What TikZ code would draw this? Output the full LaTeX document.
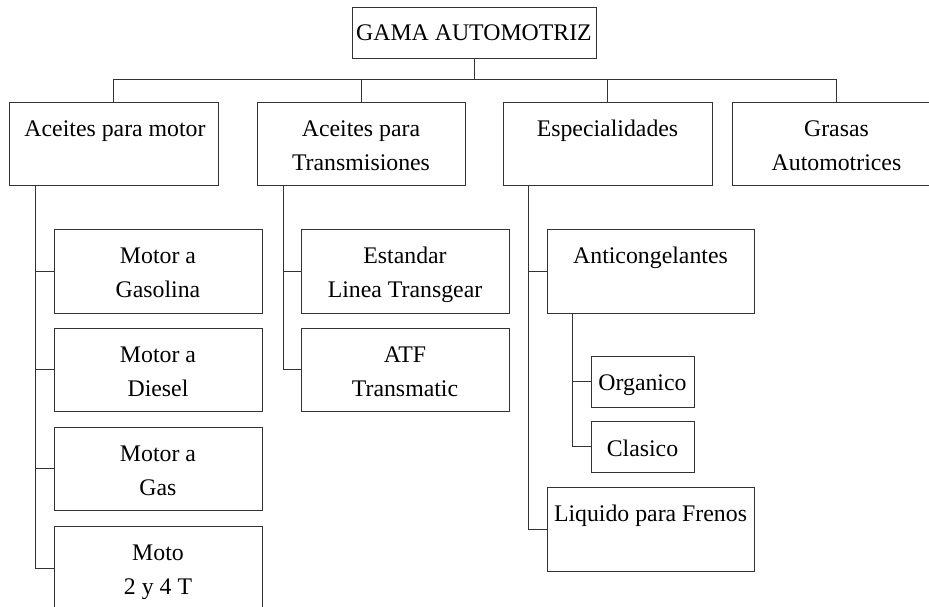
\documentclass[tikz,border=0pt]{standalone}
\usepackage{fontspec}
\setmainfont{Liberation Serif}
\begin{document}
\begin{tikzpicture}[x=1pt,y=-1pt,
  box/.style={draw=black!80,line width=0.9pt,inner sep=0pt,outer sep=0pt,rectangle},
  txt/.style={anchor=base,align=center,inner sep=0pt,font=\fontsize{23.8}{34}\selectfont},
  conn/.style={draw=black!80,line width=0.9pt}]
\useasboundingbox (0,0) rectangle (929,606);
\clip (0,0) rectangle (929,606);
% boxes
\node[box,minimum width=244pt,minimum height=51pt] (top) at (474,32.5) {};
\node[box,minimum width=209pt,minimum height=83pt] (a1) at (113.5,143.5) {};
\node[box,minimum width=208pt,minimum height=83pt] (a2) at (361,143.5) {};
\node[box,minimum width=209pt,minimum height=83pt] (a3) at (607.5,143.5) {};
\node[box,minimum width=209pt,minimum height=83pt] (a4) at (836.5,143.5) {};
\node[box,minimum width=208pt,minimum height=84pt] (b1) at (158,271) {};
\node[box,minimum width=208pt,minimum height=83pt] (b2) at (158,369.5) {};
\node[box,minimum width=208pt,minimum height=83pt] (b3) at (158,468.5) {};
\node[box,minimum width=208pt,minimum height=84pt] (b4) at (158,568) {};
\node[box,minimum width=208pt,minimum height=84pt] (c1) at (405,271) {};
\node[box,minimum width=208pt,minimum height=83pt] (c2) at (405,369.5) {};
\node[box,minimum width=207pt,minimum height=84pt] (d1) at (650.5,271) {};
\node[box,minimum width=207pt,minimum height=84pt] (d2) at (650.5,529) {};
\node[box,minimum width=103pt,minimum height=51pt] (e1) at (642.5,381.5) {};
\node[box,minimum width=103pt,minimum height=51pt] (e2) at (642.5,446.5) {};
% texts (base anchor = last line's baseline)
\node[txt] (ttop) at (474,40.5) {GAMA AUTOMOTRIZ};
\node[txt] (ta1) at (115,136.5) {Aceites para motor};
\node[txt] (ta2) at (361,170) {Aceites para\\Transmisiones};
\node[txt] (ta3) at (607.5,136.5) {Especialidades};
\node[txt] (ta4) at (836.5,170) {Grasas\\Automotrices};
\node[txt] (tb1) at (158,297) {Motor a\\Gasolina};
\node[txt] (tb2) at (158,396) {Motor a\\Diesel};
\node[txt] (tb3) at (158,495) {Motor a\\Gas};
\node[txt] (tb4) at (158,594) {Moto\\2 y 4 T};
\node[txt] (tc1) at (405,297) {Estandar\\Linea Transgear};
\node[txt] (tc2) at (405,396) {ATF\\Transmatic};
\node[txt] (td1) at (650.5,263) {Anticongelantes};
\node[txt] (td2) at (650.5,521) {Liquido para Frenos};
\node[txt] (te1) at (642.5,390) {Organico};
\node[txt] (te2) at (642.5,456) {Clasico};
% connector helpers
\coordinate (bus) at (0,79);
\coordinate (sp1) at (35,0);
\coordinate (sp2) at (283,0);
\coordinate (sp3) at (528,0);
\coordinate (sp4) at (572,0);
% connectors
\draw[conn] (top.south) -- (top.south |- bus);
\draw[conn] (a1.north) -- (a1.north |- bus) -- (a4.north |- bus) -- (a4.north);
\draw[conn] (a2.north) -- (a2.north |- bus);
\draw[conn] (a3.north) -- (a3.north |- bus);
\draw[conn] (a1.south -| sp1) |- (b4.west);
\draw[conn] (sp1 |- b1.west) -- (b1.west);
\draw[conn] (sp1 |- b2.west) -- (b2.west);
\draw[conn] (sp1 |- b3.west) -- (b3.west);
\draw[conn] (a2.south -| sp2) |- (c2.west);
\draw[conn] (sp2 |- c1.west) -- (c1.west);
\draw[conn] (a3.south -| sp3) |- (d2.west);
\draw[conn] (sp3 |- d1.west) -- (d1.west);
\draw[conn] (d1.south -| sp4) |- (e2.west);
\draw[conn] (sp4 |- e1.west) -- (e1.west);
\end{tikzpicture}
\end{document}
